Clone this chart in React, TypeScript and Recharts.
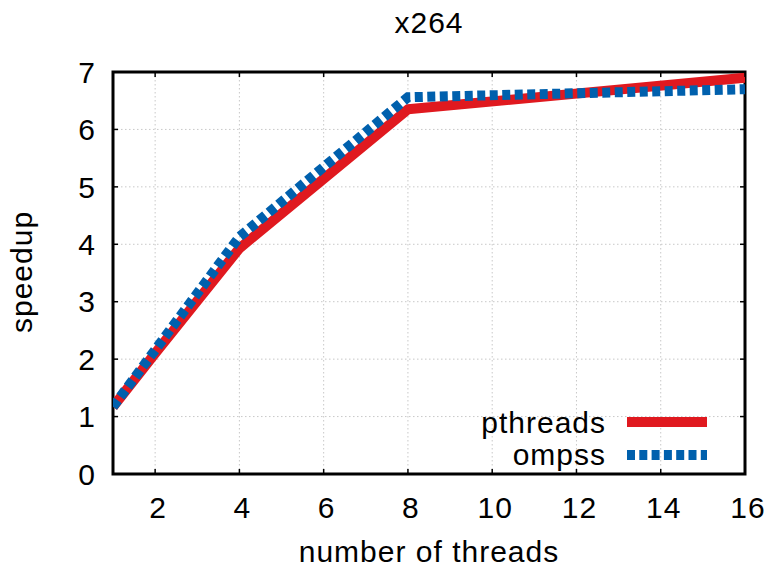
import React from 'react';
import { LineChart, Line, XAxis, YAxis, CartesianGrid, ReferenceArea } from 'recharts';

const threads = [1, 2, 4, 8, 16];
const pthreadsSpeedup = [1.17, 2.1, 3.93, 6.35, 6.9];
const ompssSpeedup = [1.17, 2.16, 4.13, 6.56, 6.7];
const xTicks = [2, 4, 6, 8, 10, 12, 14, 16];
const yTicks = [0, 1, 2, 3, 4, 5, 6, 7];
const seriesNames = ['pthreads', 'ompss'];

const data = threads.map((t, i) => ({ t, pthreads: pthreadsSpeedup[i], ompss: ompssSpeedup[i] }));

const FONT = '"Liberation Sans", Arial, sans-serif';
const FS = 30;
const LS = 1;
const RED = '#e0191f';
const BLUE = '#0060ad';

const Overlay = () => (
  <svg width={770} height={567} style={{ position: 'absolute', left: 0, top: 0, pointerEvents: 'none' }}>
    <text x={429} y={33} textAnchor="middle" fontFamily={FONT} fontSize={FS} letterSpacing={LS} fill="#000">x264</text>
    <text x={606} y={433} textAnchor="end" fontFamily={FONT} fontSize={FS} letterSpacing={LS} fill="#000">{seriesNames[0]}</text>
    <line x1={627} x2={707} y1={422} y2={422} stroke={RED} strokeWidth={10} />
    <text x={606} y={465} textAnchor="end" fontFamily={FONT} fontSize={FS} letterSpacing={LS} fill="#000">{seriesNames[1]}</text>
    <line x1={627} x2={707} y1={455} y2={455} stroke={BLUE} strokeWidth={10} strokeDasharray="8 4.3" />
  </svg>
);

const tickStyle = { fontFamily: FONT, fontSize: FS, fill: '#000', letterSpacing: LS };
const xTickStyle = { ...tickStyle, dx: 3 };
const EmptyTick = () => <g />;

export default function App() {
  return (
    <div style={{ position: 'absolute', left: 0, top: 0, width: 770, height: 567, background: '#fff' }}>
      <LineChart width={770} height={567} data={data} margin={{ top: 71, right: 24, bottom: 33, left: 53 }}>
        <CartesianGrid xAxisId="b" yAxisId="l" stroke="#c8c8c8" strokeDasharray="1.5 2.5" strokeWidth={1} />
        <XAxis
          xAxisId="b"
          dataKey="t"
          type="number"
          domain={[1, 16]}
          ticks={xTicks}
          allowDataOverflow
          orientation="bottom"
          height={60}
          axisLine={false}
          tickLine={{ stroke: '#000', strokeWidth: 1.5 }}
          tickSize={-5}
          tickMargin={28}
          tick={xTickStyle}
          label={{
            content: () => (
              <text x={429} y={562} textAnchor="middle" fontFamily={FONT} fontSize={FS} letterSpacing={LS} fill="#000">number of threads</text>
            ),
          }}
        />
        <XAxis
          xAxisId="t"
          dataKey="t"
          type="number"
          domain={[1, 16]}
          ticks={xTicks}
          allowDataOverflow
          orientation="top"
          height={1}
          axisLine={false}
          tickLine={{ stroke: '#000', strokeWidth: 1.5 }}
          tickSize={-5}
          tick={EmptyTick}
        />
        <YAxis
          yAxisId="l"
          type="number"
          domain={[0, 7]}
          ticks={yTicks}
          allowDataOverflow
          orientation="left"
          width={60}
          axisLine={false}
          tickLine={{ stroke: '#000', strokeWidth: 1.5 }}
          tickSize={-5}
          tickMargin={22}
          tick={tickStyle}
          label={{
            content: () => (
              <text x={32} y={272} transform="rotate(-90 32 272)" textAnchor="middle" fontFamily={FONT} fontSize={FS} letterSpacing={LS} fill="#000">speedup</text>
            ),
          }}
        />
        <YAxis
          yAxisId="r"
          type="number"
          domain={[0, 7]}
          ticks={yTicks}
          allowDataOverflow
          orientation="right"
          width={1}
          axisLine={false}
          tickLine={{ stroke: '#000', strokeWidth: 1.5 }}
          tickSize={-5}
          tick={EmptyTick}
        />
        <ReferenceArea
          xAxisId="b"
          yAxisId="l"
          x1={1}
          x2={16}
          y1={0}
          y2={7}
          fill="none"
          fillOpacity={0}
          stroke="#000"
          strokeWidth={3}
          ifOverflow="visible"
        />
        <Line
          xAxisId="b"
          yAxisId="l"
          type="linear"
          dataKey="pthreads"
          name={seriesNames[0]}
          stroke={RED}
          strokeWidth={10}
          strokeLinejoin="round"
          dot={false}
          activeDot={false}
          isAnimationActive={false}
        />
        <Line
          xAxisId="b"
          yAxisId="l"
          type="linear"
          dataKey="ompss"
          name={seriesNames[1]}
          stroke={BLUE}
          strokeWidth={10}
          strokeDasharray="8 4.5"
          strokeLinejoin="miter"
          dot={false}
          activeDot={false}
          isAnimationActive={false}
        />
      </LineChart>
      <Overlay />
    </div>
  );
}
